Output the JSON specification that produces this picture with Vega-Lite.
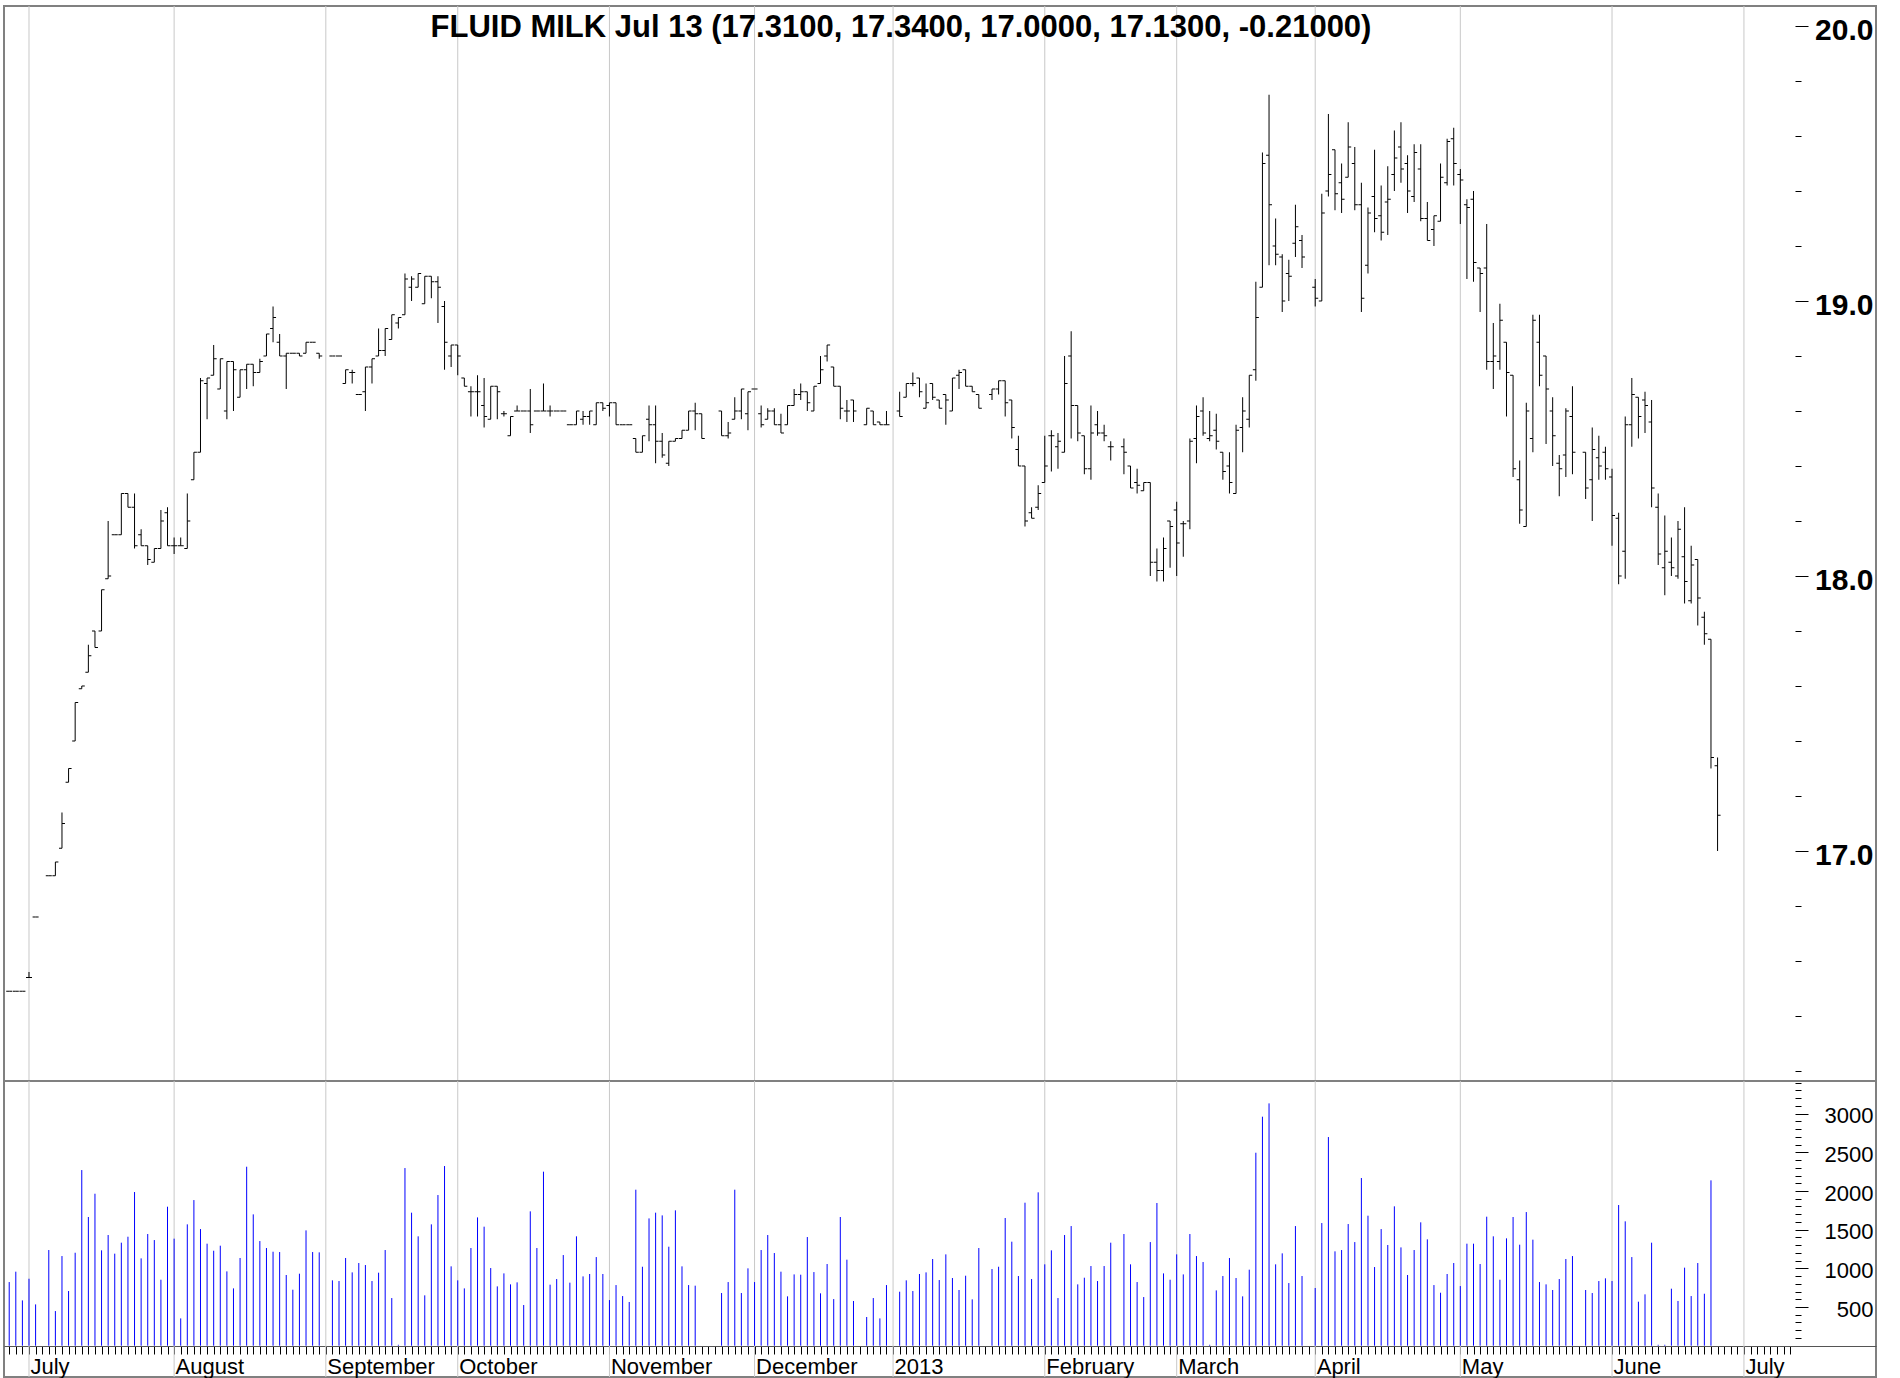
{
"$schema": "https://vega.github.io/schema/vega-lite/v6.json",
"background": "white",
"padding": {"left": 3, "top": 4, "right": 23, "bottom": 1},
"spacing": 0,
"bounds": "flush",
"config": {"view": {"stroke": "#808080", "strokeWidth": 2}, "font": "Liberation Sans", "concat": {"spacing": 0}},
"datasets": {
"months": [{"k":0},{"k":22},{"k":45},{"k":65},{"k":88},{"k":110},{"k":131},{"k":154},{"k":174},{"k":195},{"k":217},{"k":240},{"k":260}],
"ohlc": [
{"k":-3,"o":16.49,"h":16.49,"l":16.49,"c":16.49},
{"k":-2,"o":16.49,"h":16.49,"l":16.49,"c":16.49},
{"k":-1,"o":16.49,"h":16.49,"l":16.49,"c":16.49},
{"k":0,"o":16.54,"h":16.56,"l":16.54,"c":16.54},
{"k":1,"o":16.76,"h":16.76,"l":16.76,"c":16.76},
{"k":3,"o":16.91,"h":16.91,"l":16.91,"c":16.91},
{"k":4,"o":16.91,"h":16.96,"l":16.91,"c":16.96},
{"k":5,"o":17.01,"h":17.14,"l":17.01,"c":17.10},
{"k":6,"o":17.25,"h":17.30,"l":17.25,"c":17.30},
{"k":7,"o":17.40,"h":17.54,"l":17.40,"c":17.54},
{"k":8,"o":17.59,"h":17.60,"l":17.59,"c":17.60},
{"k":9,"o":17.65,"h":17.75,"l":17.65,"c":17.71},
{"k":10,"o":17.80,"h":17.80,"l":17.74,"c":17.74},
{"k":11,"o":17.80,"h":17.95,"l":17.80,"c":17.95},
{"k":12,"o":17.99,"h":18.20,"l":17.99,"c":18.00},
{"k":13,"o":18.15,"h":18.15,"l":18.15,"c":18.15},
{"k":14,"o":18.15,"h":18.30,"l":18.15,"c":18.30},
{"k":15,"o":18.30,"h":18.30,"l":18.25,"c":18.25},
{"k":16,"o":18.25,"h":18.30,"l":18.10,"c":18.11},
{"k":17,"o":18.15,"h":18.17,"l":18.11,"c":18.11},
{"k":18,"o":18.11,"h":18.11,"l":18.04,"c":18.06},
{"k":19,"o":18.05,"h":18.10,"l":18.05,"c":18.10},
{"k":20,"o":18.10,"h":18.24,"l":18.10,"c":18.20},
{"k":21,"o":18.23,"h":18.25,"l":18.11,"c":18.11},
{"k":22,"o":18.11,"h":18.14,"l":18.08,"c":18.11},
{"k":23,"o":18.11,"h":18.14,"l":18.11,"c":18.11},
{"k":24,"o":18.10,"h":18.30,"l":18.10,"c":18.20},
{"k":25,"o":18.35,"h":18.45,"l":18.35,"c":18.45},
{"k":26,"o":18.45,"h":18.72,"l":18.45,"c":18.71},
{"k":27,"o":18.70,"h":18.72,"l":18.57,"c":18.72},
{"k":28,"o":18.73,"h":18.84,"l":18.73,"c":18.79},
{"k":29,"o":18.68,"h":18.79,"l":18.68,"c":18.79},
{"k":30,"o":18.60,"h":18.78,"l":18.57,"c":18.78},
{"k":31,"o":18.78,"h":18.78,"l":18.60,"c":18.75},
{"k":32,"o":18.65,"h":18.75,"l":18.65,"c":18.75},
{"k":33,"o":18.75,"h":18.77,"l":18.68,"c":18.77},
{"k":34,"o":18.77,"h":18.77,"l":18.69,"c":18.74},
{"k":35,"o":18.74,"h":18.79,"l":18.74,"c":18.78},
{"k":36,"o":18.80,"h":18.88,"l":18.80,"c":18.88},
{"k":37,"o":18.90,"h":18.98,"l":18.85,"c":18.94},
{"k":38,"o":18.85,"h":18.88,"l":18.80,"c":18.80},
{"k":39,"o":18.80,"h":18.81,"l":18.68,"c":18.81},
{"k":40,"o":18.81,"h":18.81,"l":18.81,"c":18.81},
{"k":41,"o":18.81,"h":18.81,"l":18.80,"c":18.80},
{"k":42,"o":18.81,"h":18.85,"l":18.81,"c":18.85},
{"k":43,"o":18.85,"h":18.85,"l":18.85,"c":18.85},
{"k":44,"o":18.81,"h":18.81,"l":18.79,"c":18.80},
{"k":46,"o":18.80,"h":18.80,"l":18.80,"c":18.80},
{"k":47,"o":18.80,"h":18.80,"l":18.80,"c":18.80},
{"k":48,"o":18.70,"h":18.75,"l":18.70,"c":18.75},
{"k":49,"o":18.74,"h":18.75,"l":18.70,"c":18.74},
{"k":50,"o":18.66,"h":18.66,"l":18.66,"c":18.66},
{"k":51,"o":18.67,"h":18.76,"l":18.60,"c":18.76},
{"k":52,"o":18.76,"h":18.79,"l":18.70,"c":18.79},
{"k":53,"o":18.80,"h":18.90,"l":18.80,"c":18.82},
{"k":54,"o":18.82,"h":18.90,"l":18.80,"c":18.90},
{"k":55,"o":18.86,"h":18.95,"l":18.86,"c":18.95},
{"k":56,"o":18.92,"h":18.94,"l":18.90,"c":18.94},
{"k":57,"o":18.95,"h":19.10,"l":18.95,"c":19.08},
{"k":58,"o":19.05,"h":19.09,"l":19.00,"c":19.08},
{"k":59,"o":19.05,"h":19.10,"l":19.05,"c":19.10},
{"k":60,"o":18.99,"h":19.09,"l":18.99,"c":19.09},
{"k":61,"o":19.09,"h":19.09,"l":19.01,"c":19.07},
{"k":62,"o":19.07,"h":19.09,"l":18.92,"c":19.05},
{"k":63,"o":18.98,"h":19.00,"l":18.75,"c":18.85},
{"k":64,"o":18.80,"h":18.84,"l":18.76,"c":18.84},
{"k":65,"o":18.84,"h":18.84,"l":18.73,"c":18.80},
{"k":66,"o":18.72,"h":18.72,"l":18.69,"c":18.69},
{"k":67,"o":18.67,"h":18.69,"l":18.58,"c":18.67},
{"k":68,"o":18.67,"h":18.73,"l":18.58,"c":18.67},
{"k":69,"o":18.62,"h":18.72,"l":18.54,"c":18.58},
{"k":70,"o":18.57,"h":18.69,"l":18.57,"c":18.69},
{"k":71,"o":18.69,"h":18.69,"l":18.57,"c":18.67},
{"k":72,"o":18.59,"h":18.60,"l":18.58,"c":18.59},
{"k":73,"o":18.51,"h":18.58,"l":18.51,"c":18.58},
{"k":74,"o":18.60,"h":18.62,"l":18.60,"c":18.60},
{"k":75,"o":18.60,"h":18.60,"l":18.60,"c":18.60},
{"k":76,"o":18.60,"h":18.68,"l":18.52,"c":18.55},
{"k":77,"o":18.60,"h":18.60,"l":18.60,"c":18.60},
{"k":78,"o":18.60,"h":18.70,"l":18.60,"c":18.60},
{"k":79,"o":18.60,"h":18.62,"l":18.58,"c":18.60},
{"k":80,"o":18.60,"h":18.60,"l":18.60,"c":18.60},
{"k":81,"o":18.60,"h":18.60,"l":18.60,"c":18.60},
{"k":82,"o":18.55,"h":18.55,"l":18.55,"c":18.55},
{"k":83,"o":18.55,"h":18.60,"l":18.55,"c":18.60},
{"k":84,"o":18.57,"h":18.60,"l":18.55,"c":18.58},
{"k":85,"o":18.58,"h":18.60,"l":18.55,"c":18.60},
{"k":86,"o":18.55,"h":18.63,"l":18.55,"c":18.63},
{"k":87,"o":18.63,"h":18.63,"l":18.60,"c":18.61},
{"k":88,"o":18.62,"h":18.63,"l":18.58,"c":18.63},
{"k":89,"o":18.63,"h":18.63,"l":18.55,"c":18.55},
{"k":90,"o":18.55,"h":18.55,"l":18.55,"c":18.55},
{"k":91,"o":18.55,"h":18.55,"l":18.55,"c":18.55},
{"k":92,"o":18.50,"h":18.50,"l":18.45,"c":18.45},
{"k":93,"o":18.45,"h":18.51,"l":18.45,"c":18.51},
{"k":94,"o":18.57,"h":18.62,"l":18.49,"c":18.55},
{"k":95,"o":18.55,"h":18.62,"l":18.41,"c":18.49},
{"k":96,"o":18.49,"h":18.52,"l":18.43,"c":18.44},
{"k":97,"o":18.41,"h":18.49,"l":18.40,"c":18.49},
{"k":98,"o":18.49,"h":18.50,"l":18.49,"c":18.50},
{"k":99,"o":18.50,"h":18.53,"l":18.50,"c":18.53},
{"k":100,"o":18.53,"h":18.60,"l":18.53,"c":18.60},
{"k":101,"o":18.60,"h":18.63,"l":18.53,"c":18.59},
{"k":102,"o":18.59,"h":18.59,"l":18.50,"c":18.50},
{"k":105,"o":18.60,"h":18.60,"l":18.51,"c":18.51},
{"k":106,"o":18.51,"h":18.56,"l":18.50,"c":18.52},
{"k":107,"o":18.57,"h":18.65,"l":18.57,"c":18.60},
{"k":108,"o":18.60,"h":18.68,"l":18.57,"c":18.68},
{"k":109,"o":18.59,"h":18.67,"l":18.53,"c":18.67},
{"k":110,"o":18.68,"h":18.68,"l":18.68,"c":18.68},
{"k":111,"o":18.59,"h":18.62,"l":18.54,"c":18.55},
{"k":112,"o":18.57,"h":18.61,"l":18.57,"c":18.60},
{"k":113,"o":18.60,"h":18.61,"l":18.55,"c":18.55},
{"k":114,"o":18.55,"h":18.59,"l":18.52,"c":18.52},
{"k":115,"o":18.55,"h":18.62,"l":18.55,"c":18.62},
{"k":116,"o":18.62,"h":18.68,"l":18.62,"c":18.66},
{"k":117,"o":18.66,"h":18.70,"l":18.64,"c":18.67},
{"k":118,"o":18.67,"h":18.67,"l":18.60,"c":18.63},
{"k":119,"o":18.60,"h":18.69,"l":18.60,"c":18.69},
{"k":120,"o":18.70,"h":18.80,"l":18.70,"c":18.75},
{"k":121,"o":18.80,"h":18.84,"l":18.78,"c":18.84},
{"k":122,"o":18.76,"h":18.76,"l":18.69,"c":18.69},
{"k":123,"o":18.69,"h":18.69,"l":18.57,"c":18.61},
{"k":124,"o":18.60,"h":18.64,"l":18.56,"c":18.60},
{"k":125,"o":18.64,"h":18.64,"l":18.56,"c":18.60},
{"k":127,"o":18.55,"h":18.61,"l":18.55,"c":18.61},
{"k":128,"o":18.60,"h":18.60,"l":18.55,"c":18.55},
{"k":129,"o":18.56,"h":18.56,"l":18.55,"c":18.55},
{"k":130,"o":18.55,"h":18.60,"l":18.55,"c":18.55},
{"k":132,"o":18.60,"h":18.67,"l":18.58,"c":18.58},
{"k":133,"o":18.65,"h":18.70,"l":18.65,"c":18.70},
{"k":134,"o":18.70,"h":18.74,"l":18.69,"c":18.70},
{"k":135,"o":18.72,"h":18.72,"l":18.65,"c":18.67},
{"k":136,"o":18.61,"h":18.70,"l":18.61,"c":18.63},
{"k":137,"o":18.70,"h":18.70,"l":18.64,"c":18.65},
{"k":138,"o":18.64,"h":18.64,"l":18.61,"c":18.61},
{"k":139,"o":18.66,"h":18.66,"l":18.55,"c":18.64},
{"k":140,"o":18.60,"h":18.72,"l":18.60,"c":18.72},
{"k":141,"o":18.73,"h":18.75,"l":18.68,"c":18.74},
{"k":142,"o":18.75,"h":18.75,"l":18.69,"c":18.69},
{"k":143,"o":18.69,"h":18.69,"l":18.67,"c":18.67},
{"k":144,"o":18.66,"h":18.66,"l":18.61,"c":18.61},
{"k":146,"o":18.66,"h":18.68,"l":18.64,"c":18.68},
{"k":147,"o":18.68,"h":18.71,"l":18.66,"c":18.71},
{"k":148,"o":18.71,"h":18.71,"l":18.58,"c":18.63},
{"k":149,"o":18.64,"h":18.64,"l":18.50,"c":18.54},
{"k":150,"o":18.46,"h":18.51,"l":18.40,"c":18.40},
{"k":151,"o":18.40,"h":18.40,"l":18.18,"c":18.20},
{"k":152,"o":18.23,"h":18.25,"l":18.21,"c":18.21},
{"k":153,"o":18.25,"h":18.33,"l":18.24,"c":18.30},
{"k":154,"o":18.34,"h":18.51,"l":18.34,"c":18.40},
{"k":155,"o":18.51,"h":18.53,"l":18.38,"c":18.51},
{"k":156,"o":18.47,"h":18.52,"l":18.39,"c":18.49},
{"k":157,"o":18.45,"h":18.80,"l":18.45,"c":18.70},
{"k":158,"o":18.80,"h":18.89,"l":18.50,"c":18.62},
{"k":159,"o":18.62,"h":18.62,"l":18.49,"c":18.52},
{"k":160,"o":18.51,"h":18.51,"l":18.37,"c":18.39},
{"k":161,"o":18.39,"h":18.62,"l":18.35,"c":18.52},
{"k":162,"o":18.55,"h":18.60,"l":18.51,"c":18.52},
{"k":163,"o":18.52,"h":18.55,"l":18.49,"c":18.51},
{"k":164,"o":18.47,"h":18.49,"l":18.42,"c":18.47},
{"k":166,"o":18.47,"h":18.50,"l":18.37,"c":18.45},
{"k":167,"o":18.40,"h":18.40,"l":18.32,"c":18.32},
{"k":168,"o":18.34,"h":18.39,"l":18.30,"c":18.33},
{"k":169,"o":18.31,"h":18.34,"l":18.31,"c":18.34},
{"k":170,"o":18.34,"h":18.34,"l":18.00,"c":18.05},
{"k":171,"o":18.05,"h":18.10,"l":17.98,"c":18.02},
{"k":172,"o":18.02,"h":18.14,"l":17.98,"c":18.10},
{"k":173,"o":18.20,"h":18.20,"l":18.03,"c":18.18},
{"k":174,"o":18.24,"h":18.27,"l":18.00,"c":18.12},
{"k":175,"o":18.19,"h":18.20,"l":18.07,"c":18.19},
{"k":176,"o":18.20,"h":18.50,"l":18.17,"c":18.49},
{"k":177,"o":18.50,"h":18.62,"l":18.41,"c":18.58},
{"k":178,"o":18.60,"h":18.65,"l":18.51,"c":18.52},
{"k":179,"o":18.50,"h":18.60,"l":18.49,"c":18.51},
{"k":180,"o":18.53,"h":18.59,"l":18.46,"c":18.49},
{"k":181,"o":18.45,"h":18.45,"l":18.35,"c":18.38},
{"k":182,"o":18.40,"h":18.45,"l":18.30,"c":18.34},
{"k":183,"o":18.30,"h":18.55,"l":18.30,"c":18.53},
{"k":184,"o":18.54,"h":18.65,"l":18.45,"c":18.60},
{"k":185,"o":18.57,"h":18.73,"l":18.54,"c":18.73},
{"k":186,"o":18.75,"h":19.07,"l":18.71,"c":18.94},
{"k":187,"o":19.05,"h":19.54,"l":19.05,"c":19.50},
{"k":188,"o":19.53,"h":19.75,"l":19.13,"c":19.35},
{"k":189,"o":19.20,"h":19.30,"l":19.13,"c":19.17},
{"k":190,"o":19.16,"h":19.17,"l":18.96,"c":19.00},
{"k":191,"o":19.10,"h":19.15,"l":19.00,"c":19.09},
{"k":192,"o":19.21,"h":19.35,"l":19.16,"c":19.27},
{"k":193,"o":19.22,"h":19.24,"l":19.12,"c":19.16},
{"k":195,"o":19.05,"h":19.08,"l":18.98,"c":19.01},
{"k":196,"o":19.00,"h":19.39,"l":19.00,"c":19.32},
{"k":197,"o":19.40,"h":19.68,"l":19.38,"c":19.46},
{"k":198,"o":19.55,"h":19.55,"l":19.33,"c":19.39},
{"k":199,"o":19.43,"h":19.50,"l":19.32,"c":19.37},
{"k":200,"o":19.45,"h":19.65,"l":19.45,"c":19.56},
{"k":201,"o":19.50,"h":19.56,"l":19.33,"c":19.35},
{"k":202,"o":19.35,"h":19.43,"l":18.96,"c":19.01},
{"k":203,"o":19.13,"h":19.34,"l":19.10,"c":19.32},
{"k":204,"o":19.38,"h":19.55,"l":19.25,"c":19.30},
{"k":205,"o":19.31,"h":19.42,"l":19.22,"c":19.25},
{"k":206,"o":19.36,"h":19.49,"l":19.24,"c":19.37},
{"k":207,"o":19.46,"h":19.62,"l":19.40,"c":19.52},
{"k":208,"o":19.56,"h":19.65,"l":19.43,"c":19.48},
{"k":209,"o":19.50,"h":19.53,"l":19.32,"c":19.40},
{"k":210,"o":19.38,"h":19.57,"l":19.36,"c":19.54},
{"k":211,"o":19.48,"h":19.57,"l":19.29,"c":19.30},
{"k":212,"o":19.30,"h":19.36,"l":19.22,"c":19.22},
{"k":213,"o":19.26,"h":19.31,"l":19.20,"c":19.31},
{"k":214,"o":19.29,"h":19.50,"l":19.29,"c":19.45},
{"k":215,"o":19.43,"h":19.59,"l":19.42,"c":19.58},
{"k":216,"o":19.59,"h":19.63,"l":19.42,"c":19.50},
{"k":217,"o":19.46,"h":19.48,"l":19.28,"c":19.44},
{"k":218,"o":19.35,"h":19.37,"l":19.08,"c":19.34},
{"k":219,"o":19.37,"h":19.40,"l":19.07,"c":19.14},
{"k":220,"o":19.12,"h":19.12,"l":18.96,"c":19.10},
{"k":221,"o":19.12,"h":19.28,"l":18.75,"c":18.78},
{"k":222,"o":18.78,"h":18.92,"l":18.68,"c":18.80},
{"k":223,"o":18.78,"h":18.99,"l":18.75,"c":18.93},
{"k":224,"o":18.85,"h":18.85,"l":18.58,"c":18.74},
{"k":225,"o":18.73,"h":18.73,"l":18.36,"c":18.39},
{"k":226,"o":18.35,"h":18.42,"l":18.19,"c":18.24},
{"k":227,"o":18.18,"h":18.63,"l":18.18,"c":18.60},
{"k":228,"o":18.50,"h":18.95,"l":18.45,"c":18.93},
{"k":229,"o":18.85,"h":18.95,"l":18.69,"c":18.73},
{"k":230,"o":18.80,"h":18.80,"l":18.48,"c":18.68},
{"k":231,"o":18.60,"h":18.65,"l":18.40,"c":18.51},
{"k":232,"o":18.41,"h":18.44,"l":18.29,"c":18.39},
{"k":233,"o":18.44,"h":18.61,"l":18.36,"c":18.60},
{"k":234,"o":18.58,"h":18.69,"l":18.37,"c":18.45},
{"k":236,"o":18.45,"h":18.45,"l":18.28,"c":18.32},
{"k":237,"o":18.35,"h":18.54,"l":18.20,"c":18.46},
{"k":238,"o":18.43,"h":18.51,"l":18.35,"c":18.40},
{"k":239,"o":18.45,"h":18.47,"l":18.35,"c":18.39},
{"k":240,"o":18.36,"h":18.39,"l":18.11,"c":18.22},
{"k":241,"o":18.21,"h":18.23,"l":17.97,"c":18.00},
{"k":242,"o":18.09,"h":18.58,"l":17.99,"c":18.55},
{"k":243,"o":18.55,"h":18.72,"l":18.47,"c":18.66},
{"k":244,"o":18.65,"h":18.65,"l":18.50,"c":18.58},
{"k":245,"o":18.64,"h":18.67,"l":18.52,"c":18.62},
{"k":246,"o":18.56,"h":18.64,"l":18.25,"c":18.32},
{"k":247,"o":18.25,"h":18.30,"l":18.04,"c":18.08},
{"k":248,"o":18.03,"h":18.22,"l":17.93,"c":18.09},
{"k":249,"o":18.05,"h":18.14,"l":18.00,"c":18.03},
{"k":250,"o":18.00,"h":18.20,"l":17.99,"c":18.17},
{"k":251,"o":18.07,"h":18.25,"l":17.90,"c":17.98},
{"k":252,"o":17.91,"h":18.11,"l":17.90,"c":18.04},
{"k":253,"o":18.06,"h":18.06,"l":17.82,"c":17.92},
{"k":254,"o":17.85,"h":17.87,"l":17.75,"c":17.79},
{"k":255,"o":17.77,"h":17.77,"l":17.30,"c":17.34},
{"k":256,"o":17.31,"h":17.34,"l":17.00,"c":17.13}
],
"vol": [
{"k":-3,"v":823},{"k":-2,"v":957},{"k":-1,"v":586},{"k":0,"v":866},{"k":1,"v":534},{"k":3,"v":1237},{"k":4,"v":448},{"k":5,"v":1159},{"k":6,"v":707},{"k":7,"v":1202},{"k":8,"v":2271},{"k":9,"v":1664},{"k":10,"v":1965},{"k":11,"v":1233},{"k":12,"v":1431},{"k":13,"v":1190},{"k":14,"v":1332},{"k":15,"v":1409},{"k":16,"v":1987},{"k":17,"v":1129},{"k":18,"v":1444},{"k":19,"v":1366},{"k":20,"v":853},{"k":21,"v":1797},{"k":22,"v":1384},{"k":23,"v":353},{"k":24,"v":1569},{"k":25,"v":1883},{"k":26,"v":1508},{"k":27,"v":1319},{"k":28,"v":1228},{"k":29,"v":1293},{"k":30,"v":961},{"k":31,"v":741},{"k":32,"v":1134},{"k":33,"v":2314},{"k":34,"v":1698},{"k":35,"v":1353},{"k":36,"v":1263},{"k":37,"v":1215},{"k":38,"v":1211},{"k":39,"v":914},{"k":40,"v":724},{"k":41,"v":931},{"k":42,"v":1491},{"k":43,"v":1211},{"k":44,"v":1207},{"k":46,"v":845},{"k":47,"v":836},{"k":48,"v":1134},{"k":49,"v":948},{"k":50,"v":1069},{"k":51,"v":1043},{"k":52,"v":836},{"k":53,"v":944},{"k":54,"v":1237},{"k":55,"v":616},{"k":56,"v":12},{"k":57,"v":2297},{"k":58,"v":1720},{"k":59,"v":1414},{"k":60,"v":651},{"k":61,"v":1569},{"k":62,"v":1948},{"k":63,"v":2323},{"k":64,"v":1026},{"k":65,"v":845},{"k":66,"v":741},{"k":67,"v":1263},{"k":68,"v":1659},{"k":69,"v":1539},{"k":70,"v":1004},{"k":71,"v":767},{"k":72,"v":935},{"k":73,"v":793},{"k":74,"v":819},{"k":75,"v":526},{"k":76,"v":1737},{"k":77,"v":1263},{"k":78,"v":2250},{"k":79,"v":789},{"k":80,"v":862},{"k":81,"v":1172},{"k":82,"v":815},{"k":83,"v":1414},{"k":84,"v":896},{"k":85,"v":927},{"k":86,"v":1146},{"k":87,"v":927},{"k":88,"v":590},{"k":89,"v":784},{"k":90,"v":642},{"k":91,"v":565},{"k":92,"v":2017},{"k":93,"v":1021},{"k":94,"v":1646},{"k":95,"v":1720},{"k":96,"v":1685},{"k":97,"v":1280},{"k":98,"v":1750},{"k":99,"v":1026},{"k":100,"v":784},{"k":101,"v":776},{"k":105,"v":681},{"k":106,"v":823},{"k":107,"v":2017},{"k":108,"v":681},{"k":109,"v":1000},{"k":110,"v":823},{"k":111,"v":1237},{"k":112,"v":1431},{"k":113,"v":1198},{"k":114,"v":957},{"k":115,"v":638},{"k":116,"v":922},{"k":117,"v":918},{"k":118,"v":1405},{"k":119,"v":952},{"k":120,"v":677},{"k":121,"v":1056},{"k":122,"v":603},{"k":123,"v":1664},{"k":124,"v":1112},{"k":125,"v":578},{"k":127,"v":371},{"k":128,"v":616},{"k":129,"v":353},{"k":130,"v":784},{"k":132,"v":698},{"k":133,"v":845},{"k":134,"v":707},{"k":135,"v":927},{"k":136,"v":948},{"k":137,"v":1121},{"k":138,"v":849},{"k":139,"v":1181},{"k":140,"v":875},{"k":141,"v":720},{"k":142,"v":905},{"k":143,"v":599},{"k":144,"v":1263},{"k":146,"v":991},{"k":147,"v":1021},{"k":148,"v":1651},{"k":149,"v":1345},{"k":150,"v":901},{"k":151,"v":1849},{"k":152,"v":862},{"k":153,"v":1983},{"k":154,"v":1052},{"k":155,"v":1233},{"k":156,"v":616},{"k":157,"v":1431},{"k":158,"v":1547},{"k":159,"v":793},{"k":160,"v":879},{"k":161,"v":1030},{"k":162,"v":836},{"k":163,"v":1030},{"k":164,"v":1332},{"k":166,"v":1444},{"k":167,"v":1052},{"k":168,"v":823},{"k":169,"v":629},{"k":170,"v":1340},{"k":171,"v":1845},{"k":172,"v":935},{"k":173,"v":853},{"k":174,"v":1181},{"k":175,"v":922},{"k":176,"v":1444},{"k":177,"v":1159},{"k":178,"v":1082},{"k":179,"v":12},{"k":180,"v":715},{"k":181,"v":901},{"k":182,"v":1134},{"k":183,"v":875},{"k":184,"v":638},{"k":185,"v":983},{"k":186,"v":2495},{"k":187,"v":2961},{"k":188,"v":3133},{"k":189,"v":1052},{"k":190,"v":1194},{"k":191,"v":810},{"k":192,"v":1547},{"k":193,"v":901},{"k":195,"v":746},{"k":196,"v":1586},{"k":197,"v":2698},{"k":198,"v":1220},{"k":199,"v":1237},{"k":200,"v":1573},{"k":201,"v":1340},{"k":202,"v":2168},{"k":203,"v":1681},{"k":204,"v":1017},{"k":205,"v":1508},{"k":206,"v":1302},{"k":207,"v":1802},{"k":208,"v":1271},{"k":209,"v":914},{"k":210,"v":1237},{"k":211,"v":1595},{"k":212,"v":1375},{"k":213,"v":784},{"k":214,"v":685},{"k":215,"v":927},{"k":216,"v":1069},{"k":217,"v":771},{"k":218,"v":1319},{"k":219,"v":1319},{"k":220,"v":1056},{"k":221,"v":1668},{"k":222,"v":1414},{"k":223,"v":853},{"k":224,"v":1388},{"k":225,"v":1664},{"k":226,"v":1306},{"k":227,"v":1728},{"k":228,"v":1371},{"k":229,"v":823},{"k":230,"v":793},{"k":231,"v":720},{"k":232,"v":862},{"k":233,"v":1121},{"k":234,"v":1159},{"k":236,"v":720},{"k":237,"v":681},{"k":238,"v":836},{"k":239,"v":871},{"k":240,"v":836},{"k":241,"v":1819},{"k":242,"v":1608},{"k":243,"v":1146},{"k":244,"v":569},{"k":245,"v":664},{"k":246,"v":1332},{"k":247,"v":12},{"k":248,"v":12},{"k":249,"v":737},{"k":250,"v":578},{"k":251,"v":1009},{"k":252,"v":642},{"k":253,"v":1069},{"k":254,"v":672},{"k":255,"v":2138}
],
"titletext": [{"t": "FLUID MILK Jul 13 (17.3100, 17.3400, 17.0000, 17.1300, -0.21000)", "xk": 132.2, "yp": 19.96}]
},
"vconcat": [
{
"width": 1872, "height": 1075,
"encoding": {"x": {"field": "k", "type": "quantitative", "scale": {"domain": [-3.79, 280.02], "nice": false, "zero": false}, "axis": null}},
"layer": [
{"data": {"name": "months"}, "mark": {"type": "rule", "color": "#c8c8c8", "strokeWidth": 1}, "encoding": {}},
{"data": {"name": "ohlc"}, "mark": {"type": "rule", "color": "#000000", "strokeWidth": 1},
 "encoding": {
  "y": {"field": "l", "type": "quantitative", "scale": {"domain": [16.1636, 20.0727], "nice": false, "zero": false},
   "axis": {"orient": "right", "offset": -81, "title": null, "domain": false, "grid": false,
    "values": [16.2,16.3,16.4,16.5,16.6,16.7,16.8,16.9,17.0,17.1,17.2,17.3,17.4,17.5,17.6,17.7,17.8,17.9,18.0,18.1,18.2,18.3,18.4,18.5,18.6,18.7,18.8,18.9,19.0,19.1,19.2,19.3,19.4,19.5,19.6,19.7,19.8,19.9,20.0],
    "tickSize": {"condition": {"test": "round(datum.value*10) % 5 != 0", "value": 6}, "value": 13},
    "tickColor": "#000000", "tickWidth": 1,
    "labelExpr": "round(datum.value*10) % 5 == 0 ? format(datum.value, '.1f') : ''",
    "labelFont": "Liberation Sans", "labelFontSize": 30, "labelFontWeight": "bold", "labelColor": "#000000",
    "labelAlign": "right", "labelBaseline": "middle", "labelPadding": 65, "labelOffset": 5,
    "labelOverlap": false, "labelBound": false, "labelFlush": false}},
  "y2": {"field": "h"}
 }},
{"data": {"name": "ohlc"}, "mark": {"type": "tick", "orient": "horizontal", "size": 3, "thickness": 1, "xOffset": -1.5, "color": "#000000", "opacity": 1},
 "encoding": {"y": {"field": "o", "type": "quantitative"}}},
{"data": {"name": "ohlc"}, "mark": {"type": "tick", "orient": "horizontal", "size": 3, "thickness": 1, "xOffset": 1.5, "color": "#000000", "opacity": 1},
 "encoding": {"y": {"field": "c", "type": "quantitative"}}},
{"data": {"name": "titletext"}, "mark": {"type": "text", "font": "Liberation Sans", "fontSize": 31, "fontWeight": "bold", "color": "#000000", "align": "center", "baseline": "alphabetic"},
 "encoding": {"x": {"field": "xk", "type": "quantitative"}, "y": {"field": "yp", "type": "quantitative"}, "text": {"field": "t"}}}
]
},
{
"width": 1872, "height": 296,
"encoding": {"x": {"field": "k", "type": "quantitative", "scale": {"domain": [-3.79, 280.02], "nice": false, "zero": false},
 "axis": {"orient": "bottom", "offset": -31, "title": null, "grid": false, "domain": true, "domainColor": "#555555", "domainWidth": 1,
  "values": [-3,-2,-1,0,1,2,3,4,5,6,7,8,9,10,11,12,13,14,15,16,17,18,19,20,21,22,23,24,25,26,27,28,29,30,31,32,33,34,35,36,37,38,39,40,41,42,43,44,45,46,47,48,49,50,51,52,53,54,55,56,57,58,59,60,61,62,63,64,65,66,67,68,69,70,71,72,73,74,75,76,77,78,79,80,81,82,83,84,85,86,87,88,89,90,91,92,93,94,95,96,97,98,99,100,101,102,103,104,105,106,107,108,109,110,111,112,113,114,115,116,117,118,119,120,121,122,123,124,125,126,127,128,129,130,131,132,133,134,135,136,137,138,139,140,141,142,143,144,145,146,147,148,149,150,151,152,153,154,155,156,157,158,159,160,161,162,163,164,165,166,167,168,169,170,171,172,173,174,175,176,177,178,179,180,181,182,183,184,185,186,187,188,189,190,191,192,193,194,195,196,197,198,199,200,201,202,203,204,205,206,207,208,209,210,211,212,213,214,215,216,217,218,219,220,221,222,223,224,225,226,227,228,229,230,231,232,233,234,235,236,237,238,239,240,241,242,243,244,245,246,247,248,249,250,251,252,253,254,255,256,257,258,259,260,261,262,263,264,265,266,267],
  "tickSize": 8, "tickColor": "#000000", "tickWidth": 1,
  "labelExpr": "indexof([0,22,45,65,88,110,131,154,174,195,217,240,260], datum.value) >= 0 ? ['July','August','September','October','November','December','2013','February','March','April','May','June','July'][indexof([0,22,45,65,88,110,131,154,174,195,217,240,260], datum.value)] : ''",
  "labelFont": "Liberation Sans", "labelFontSize": 22, "labelColor": "#000000", "labelAlign": "left", "labelBaseline": "alphabetic", "labelPadding": 19, "labelOffset": 1,
  "labelOverlap": false, "labelBound": false, "labelFlush": false}}},
"layer": [
{"data": {"name": "months"}, "mark": {"type": "rule", "color": "#c8c8c8", "strokeWidth": 1}, "encoding": {}},
{"data": {"name": "vol"}, "mark": {"type": "rule", "color": "#0000ff", "strokeWidth": 1},
 "encoding": {
  "y": {"field": "v", "type": "quantitative", "scale": {"domain": [-404.7, 3422.5], "nice": false, "zero": false},
   "axis": {"orient": "right", "offset": -81, "title": null, "domain": false, "grid": false,
    "values": [100,200,300,400,500,600,700,800,900,1000,1100,1200,1300,1400,1500,1600,1700,1800,1900,2000,2100,2200,2300,2400,2500,2600,2700,2800,2900,3000,3100,3200,3300,3400],
    "tickSize": {"condition": {"test": "datum.value % 500 != 0", "value": 6}, "value": 13},
    "tickColor": "#000000", "tickWidth": 1,
    "labelExpr": "datum.value % 500 == 0 && datum.value <= 3000 ? format(datum.value, 'd') : ''",
    "labelFont": "Liberation Sans", "labelFontSize": 22, "labelColor": "#000000",
    "labelAlign": "right", "labelBaseline": "middle", "labelPadding": 65, "labelOffset": 2,
    "labelOverlap": false, "labelBound": false, "labelFlush": false}},
  "y2": {"datum": 0}
 }}
]
}
]
}
